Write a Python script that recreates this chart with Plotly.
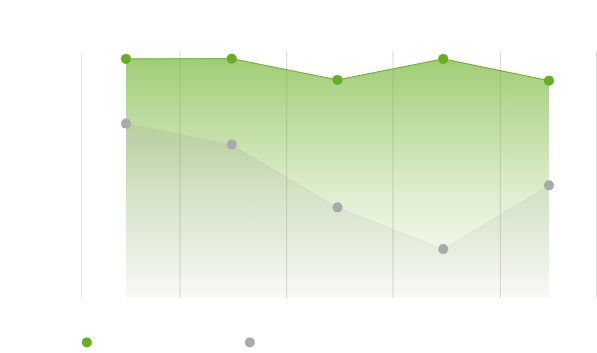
import plotly.graph_objects as go

x_idx = [0, 1, 2, 3, 4]
green_vals = [96.8, 96.9, 88.3, 96.8, 88.0]
gray_vals = [70.6, 62.1, 36.7, 19.8, 45.6]
grid_x = [-0.425, 0.51, 1.52, 2.525, 3.54, 4.45]
series_names = ["", ""]

GREEN = "#67ae22"
GRAY = "#aaaaaa"

fig = go.Figure()

fig.add_trace(go.Scatter(
    x=x_idx, y=green_vals, mode="lines", fill="tozeroy",
    line=dict(color=GREEN, width=1),
    fillgradient=dict(type="vertical", start=0, stop=97,
                      colorscale=[[0, "rgba(103,174,34,0.0)"], [0.45, "rgba(103,174,34,0.22)"], [1, "rgba(103,174,34,0.62)"]]),
    showlegend=False, hoverinfo="skip"))

fig.add_trace(go.Scatter(
    x=x_idx, y=gray_vals, mode="lines", fill="tozeroy",
    line=dict(color="rgba(170,170,170,0.12)", width=1),
    fillgradient=dict(type="vertical", start=0, stop=71,
                      colorscale=[[0, "rgba(140,140,130,0.05)"], [1, "rgba(140,140,130,0.17)"]]),
    showlegend=False, hoverinfo="skip"))

fig.add_trace(go.Scatter(x=x_idx, y=green_vals, mode="markers",
                         marker=dict(color=GREEN, size=10), showlegend=False))
fig.add_trace(go.Scatter(x=x_idx, y=gray_vals, mode="markers",
                         marker=dict(color=GRAY, size=10), showlegend=False))

# legend entries
fig.add_trace(go.Scatter(x=[None], y=[None], mode="markers", name=series_names[0] or " ",
                         marker=dict(color=GREEN, size=10), showlegend=True))
fig.add_trace(go.Scatter(x=[None], y=[None], mode="markers", name=series_names[1] or " ",
                         marker=dict(color=GRAY, size=10), showlegend=True))

for gx in grid_x:
    fig.add_shape(type="line", x0=gx, x1=gx, y0=0, y1=1, xref="x", yref="paper",
                  line=dict(color="#d9d9d9", width=1), layer="below")

fig.update_layout(
    width=597, height=353,
    margin=dict(l=81, r=0, t=51, b=55),
    paper_bgcolor="white", plot_bgcolor="white",
    xaxis=dict(range=[-0.4255, 4.454], showgrid=False, zeroline=False,
               showticklabels=False, showline=False, ticks=""),
    yaxis=dict(range=[0, 100], showgrid=False, zeroline=False,
               showticklabels=False, showline=False, ticks=""),
    legend=dict(orientation="h", xref="container", yref="container",
                x=0.112, y=0.03, xanchor="left", yanchor="middle",
                entrywidth=118, entrywidthmode="pixels",
                font=dict(size=12, color="#888888")),
)

fig.write_html("out.html")
